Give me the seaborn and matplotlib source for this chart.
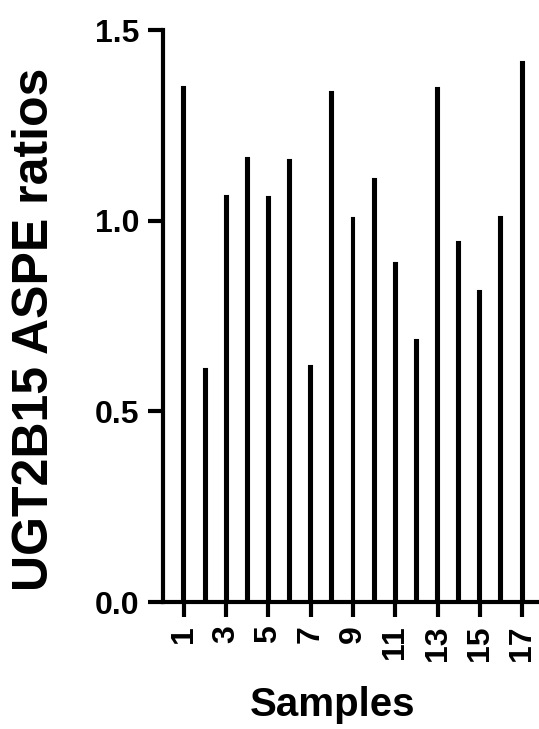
import matplotlib
matplotlib.use("Agg")
import matplotlib.pyplot as plt
import seaborn as sns
import pandas as pd

# values
samples = [str(i) for i in range(1, 18)]
ratios = [1.35, 0.61, 1.065, 1.165, 1.063, 1.16, 0.618, 1.337, 1.008,
          1.108, 0.89, 0.687, 1.348, 0.945, 0.815, 1.01, 1.415]
tick_labels = ["1", "3", "5", "7", "9", "11", "13", "15", "17"]
y_ticks = [0.0, 0.5, 1.0, 1.5]

df = pd.DataFrame({"Samples": samples, "ratio": ratios})

sns.set_theme(style="ticks")
plt.rcParams["font.family"] = ["Liberation Sans", "DejaVu Sans"]
plt.rcParams["font.weight"] = "bold"
plt.rcParams["text.color"] = "black"
plt.rcParams["axes.labelcolor"] = "black"
plt.rcParams["xtick.color"] = "black"
plt.rcParams["ytick.color"] = "black"

fig = plt.figure(figsize=(5.39, 7.29), dpi=100)
ax = fig.add_axes([163 / 539, 1 - 602 / 729, 1 - 163 / 539, (602 - 30) / 729])

sns.barplot(data=df, x="Samples", y="ratio", color="black", width=0.14,
            saturation=1, edgecolor="black", linewidth=1.5, ax=ax)

ax.set_xlim(-0.99, 16.8)
ax.set_ylim(0, 1.5)
ax.set_yticks(y_ticks)
ax.set_yticklabels([f"{t:.1f}" for t in y_ticks], fontsize=23, fontweight="bold")
ax.set_xticks(range(0, 17, 2))
ax.set_xticklabels(tick_labels, rotation=90, fontsize=23, fontweight="bold")

for s in ["top", "right"]:
    ax.spines[s].set_visible(False)
for s in ["left", "bottom"]:
    ax.spines[s].set_linewidth(3)
    ax.spines[s].set_color("black")
ax.tick_params(axis="both", length=11, width=3, color="black", pad=6,
               labelcolor="black")

ax.set_xlabel("Samples", fontsize=29, fontweight="bold", color="black")
ax.xaxis.set_label_coords(0.452, -0.147)
ax.set_ylabel("UGT2B15 ASPE ratios", fontsize=36, fontweight="bold", color="black")
ax.yaxis.set_label_coords(-0.28, 0.476)

fig.savefig("out.png", dpi=100)
